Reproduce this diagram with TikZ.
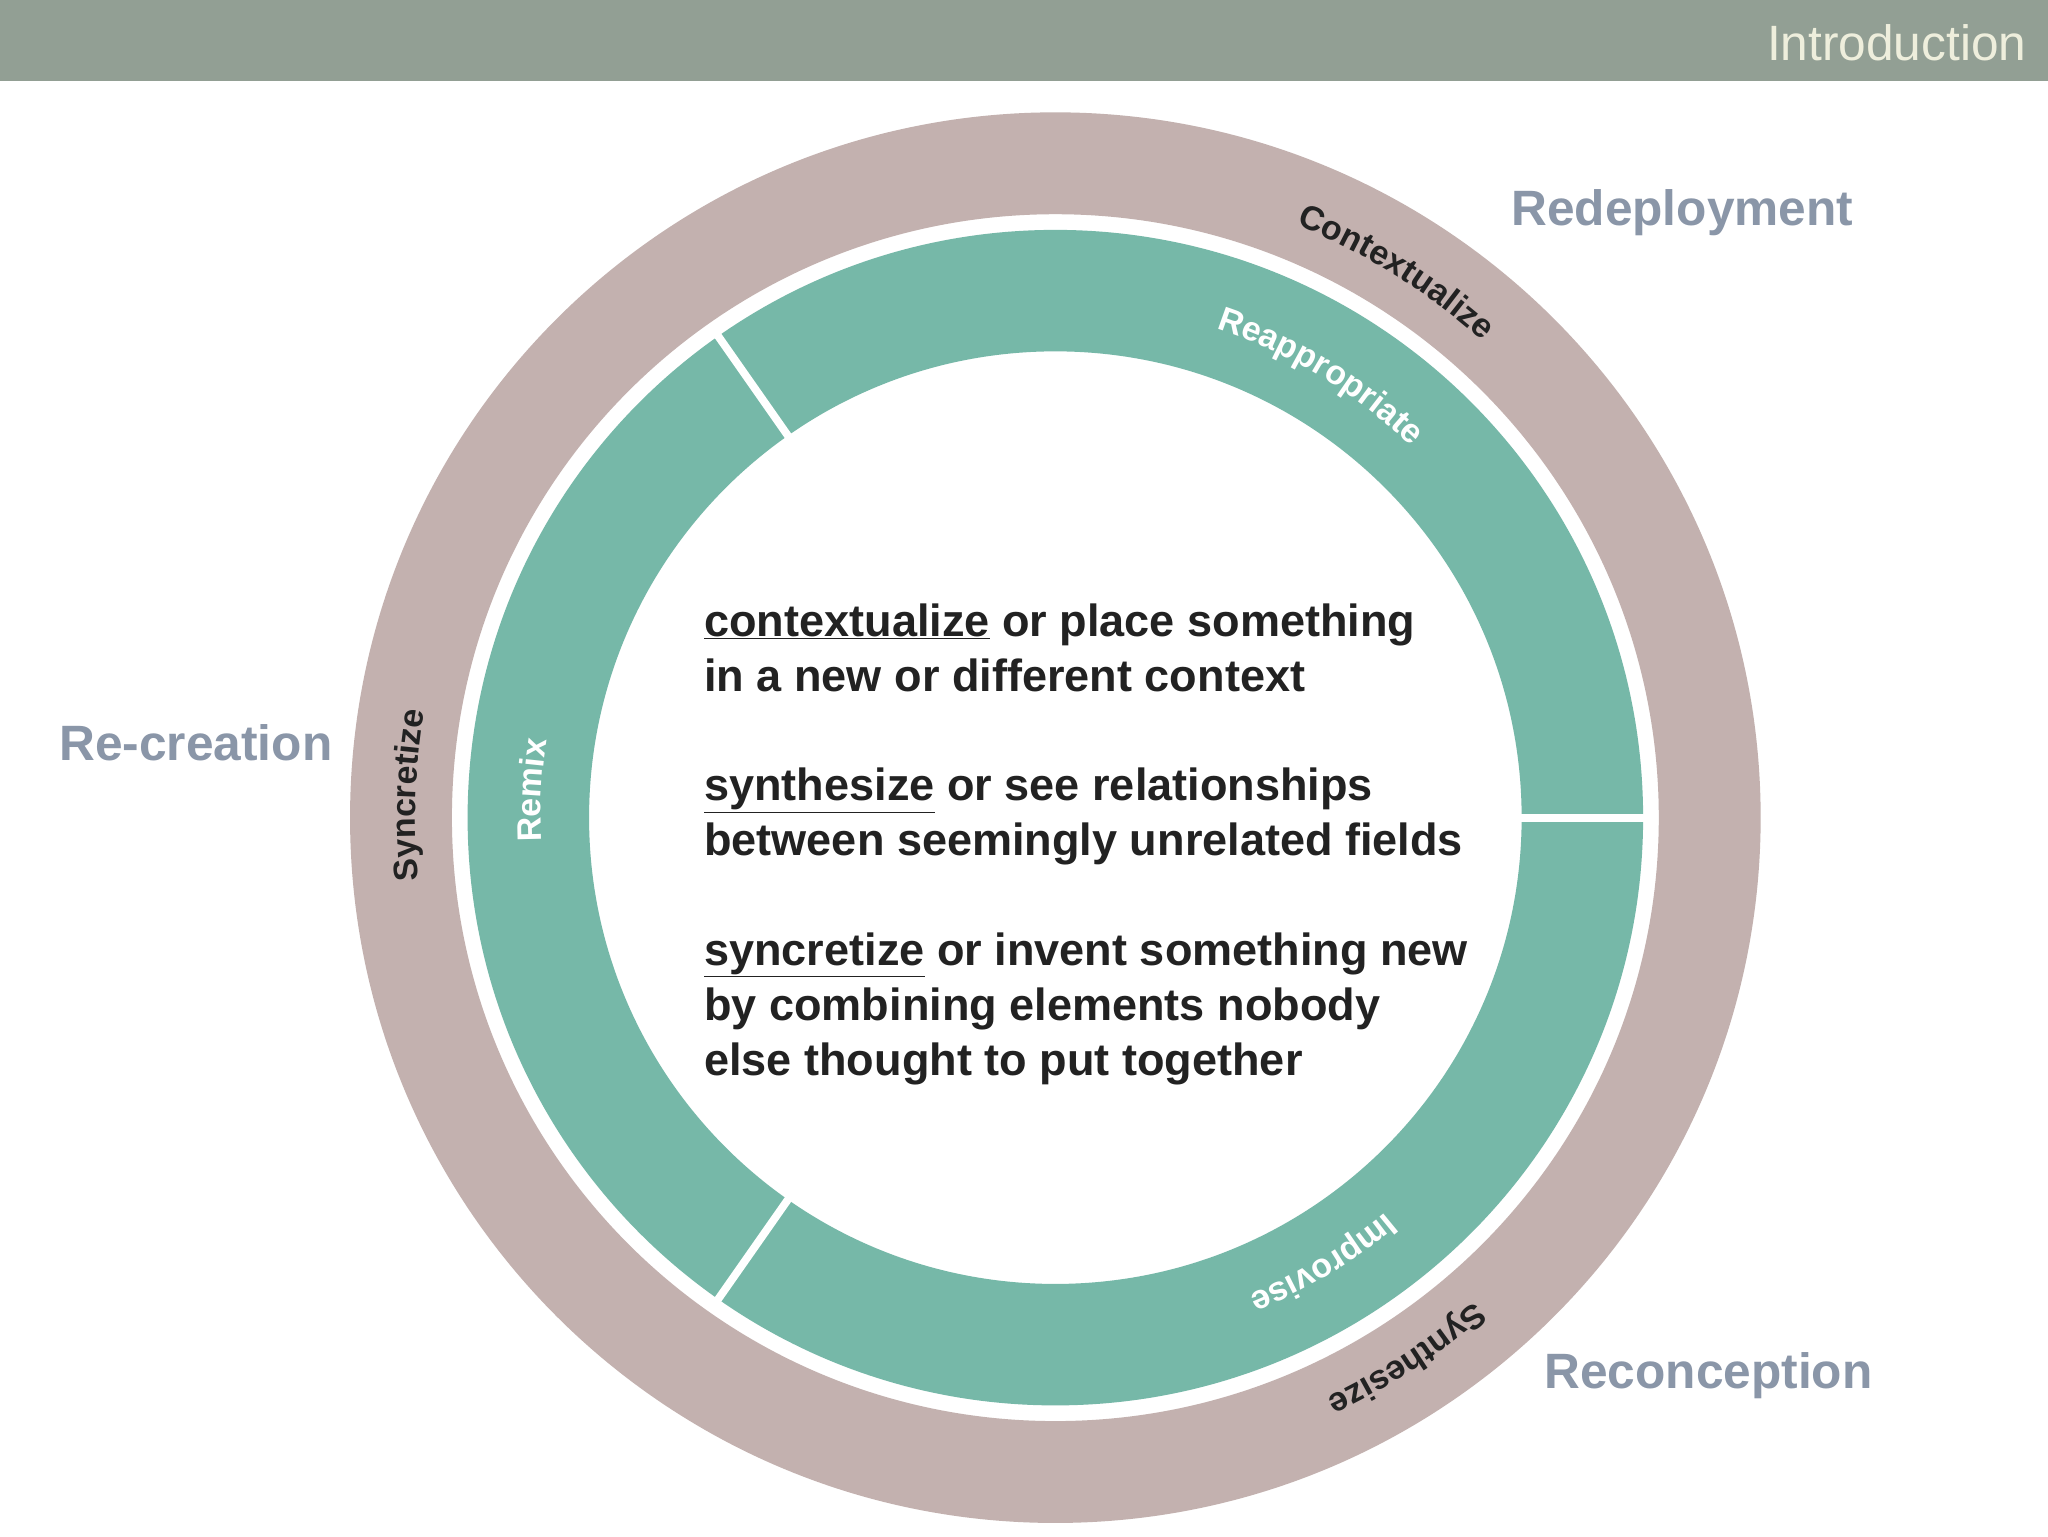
\documentclass[tikz,border=0pt]{standalone}
\usepackage{fontspec}
\setmainfont{Liberation Sans}
\usetikzlibrary{decorations.text}
\definecolor{hdr}{HTML}{929F94}
\definecolor{hdrtxt}{HTML}{EEEEDC}
\definecolor{brownring}{HTML}{C3B1AF}
\definecolor{greenring}{HTML}{76B8A8}
\definecolor{outlbl}{HTML}{8A96A8}
\definecolor{dark}{HTML}{222222}
\tikzset{
  outerlabel/.style={font=\fontsize{38}{40}\selectfont\bfseries, text=outlbl},
  divider/.style={white, line width=6pt}
}
\newcommand{\ringtext}[4]{% visual angle, radius, format, text
  \path[decorate, decoration={text along path, text={#3#4}, text align=center}]
    (c) ++(-#1-40:#2) arc[start angle=-#1-40, end angle=-#1+40, radius=#2];}
\begin{document}
\begin{tikzpicture}[x=1pt,y=-1pt]
\useasboundingbox (0,0) rectangle (1568,1176);
\fill[white] (0,0) rectangle (1568,1176);
\fill[hdr] (0,0) rectangle (1568,62);
\node[anchor=east, text=hdrtxt, font=\fontsize{38}{40}\selectfont] (intro) at (1555,33) {Introduction};
\coordinate (c) at (808,626);
\fill[brownring, even odd rule] (c) circle[radius=540] (c) circle[radius=462];
\fill[greenring, even odd rule] (c) circle[radius=450] (c) circle[radius=357];
\foreach \a in {0,-125,-235}
  \draw[divider] (c) ++(\a:352) -- ++(\a:104);
\ringtext{58}{490}{|\fontsize{26}{26}\selectfont\bfseries\color{dark}|}{Contextualize}
\ringtext{178}{490}{|\fontsize{26}{26}\selectfont\bfseries\color{dark}|}{Syncretize}
\ringtext{-57}{490}{|\fontsize{26}{26}\selectfont\bfseries\color{dark}|}{Synthesize}
\ringtext{59}{394}{|\fontsize{26}{26}\selectfont\bfseries\color{white}|}{Reappropriate}
\ringtext{177}{394}{|\fontsize{26}{26}\selectfont\bfseries\color{white}|}{Remix}
\ringtext{-59}{394}{|\fontsize{26}{26}\selectfont\bfseries\color{white}|}{Improvise}
\node[outerlabel] (redep) at (1288,163) {Redeployment};
\node[outerlabel] (recre) at (150,569) {Re-creation};
\node[outerlabel] (recon) at (1308,1053) {Reconception};
\node[anchor=north west, align=left, text=dark, inner sep=0pt,
  font=\fontsize{34.5}{42}\selectfont\bfseries] (body) at (539,462) {%
\underline{contextualize} or place something\\
in a new or different context\\[42pt]
\underline{synthesize} or see relationships\\
between seemingly unrelated fields\\[42pt]
\underline{syncretize} or invent something new\\
by combining elements nobody\\
else thought to put together};
\end{tikzpicture}
\end{document}
